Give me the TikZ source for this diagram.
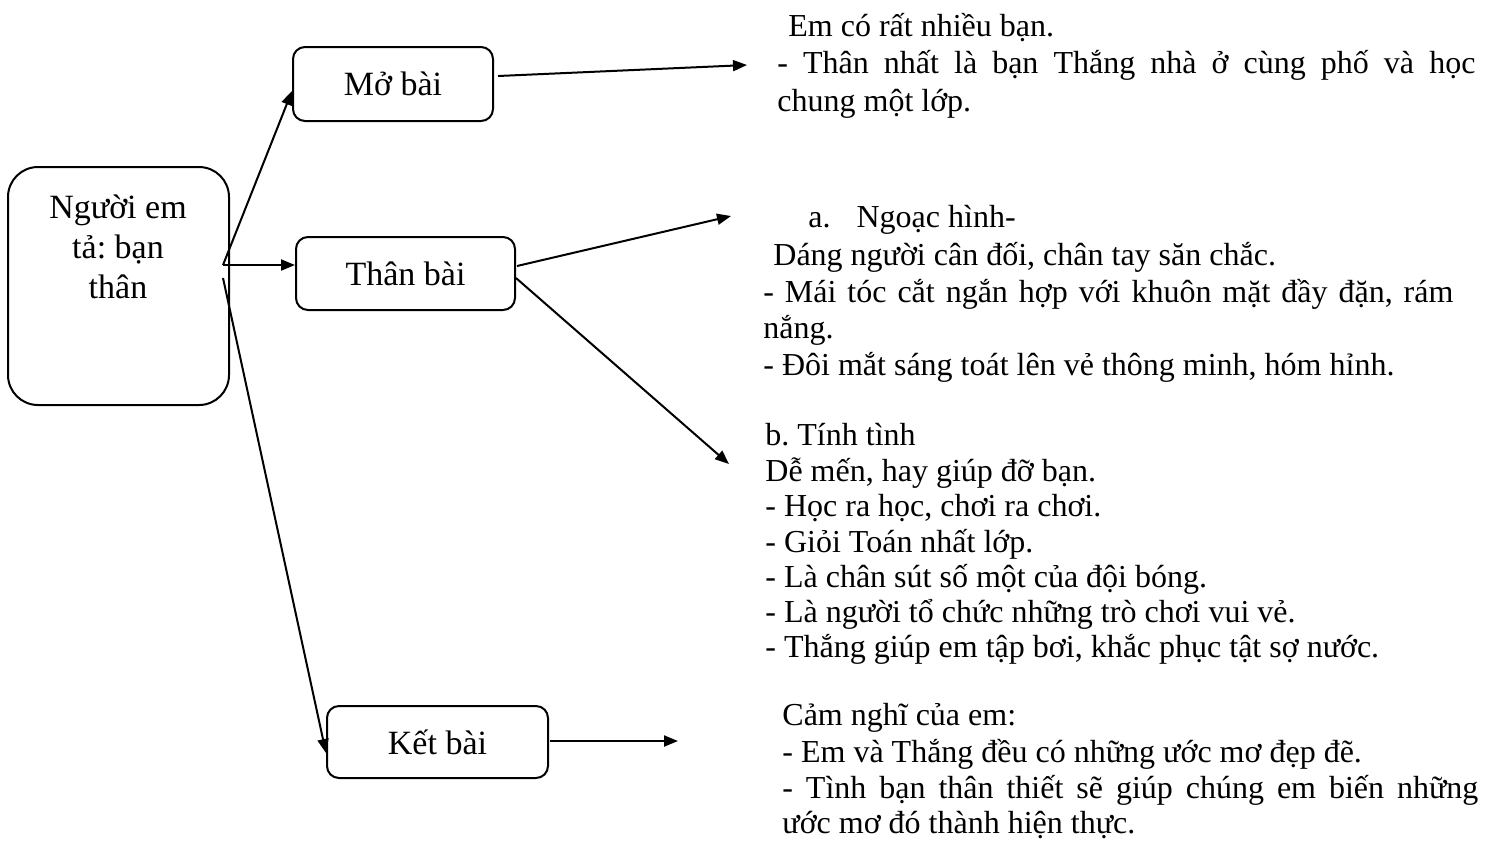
\documentclass[tikz,border=0pt]{standalone}
\usepackage{fontspec}
\setmainfont{Liberation Serif}
\usetikzlibrary{arrows.meta,calc}
\frenchspacing
\begin{document}
\begin{tikzpicture}[x=0.5pt,y=-0.5pt,
  box/.style={draw,line width=1pt,rounded corners=6pt,inner sep=0pt,font=\fontsize{17}{20}\selectfont},
  bigbox/.style={draw,line width=1pt,rounded corners=15pt,inner sep=0pt},
  lbl/.style={inner sep=0pt,font=\fontsize{17}{20}\selectfont},
  ln/.style={anchor=base west,inner sep=0pt,font=\fontsize{16}{18}\selectfont},
  arr/.style={line width=1pt,-{Triangle[length=7pt,width=5.5pt]}}]
\useasboundingbox (0,0) rectangle (1493,843);

% boxes
\node[bigbox,minimum width=110.5pt,minimum height=119pt] (main) at (118.5,286) {};
\node[lbl,anchor=base] (m1) at (118,218) {Người em};
\node[lbl,anchor=base] (m2) at (118,258) {tả: bạn};
\node[lbl,anchor=base] (m3) at (118,298) {thân};
\node[box,minimum width=100pt,minimum height=37pt] (mb) at (393,84) {Mở bài};
\node[box,minimum width=109.5pt,minimum height=36.5pt] (tb) at (405.5,273.5) {Thân bài};
\node[box,minimum width=110.5pt,minimum height=36pt] (kb) at (437.5,742) {Kết bài};

% connector points
\coordinate (hub) at (223,265);
\coordinate (hubk) at (223,278);
\coordinate (mbo) at (498,76);
\coordinate (mbt) at (747,65);
\coordinate (tbo1) at (517,266);
\coordinate (tbt1) at (731,216);
\coordinate (tbo2) at (516,278);
\coordinate (tbt2) at (729,464);
\coordinate (kbo) at (550,741);
\coordinate (kbt) at (678,741);

\draw[arr] (hub) -- ($(mb.south west)+(0,-31)$);
\draw[arr] (hub) -- (hub -| tb.west);
\draw[arr] (hubk) -- ($(kb.west)+(0,11)$);
\draw[arr] (mbo) -- (mbt);
\draw[arr] (tbo1) -- (tbt1);
\draw[arr] (tbo2) -- (tbt2);
\draw[arr] (kbo) -- (kbt);

% block 1
\node[ln] (t11) at (788,36) {Em có rất nhiều bạn.};
\node[ln] (t12) at (777,73) {\makebox[349pt][s]{- Thân nhất là bạn Thắng nhà ở cùng phố và học}};
\node[ln] (t13) at (777,111) {chung một lớp.};

% block a
\node[ln] (ta1) at (808,227) {a.\hspace{13pt}Ngoạc hình-};
\node[ln] (ta2) at (773,265) {Dáng người cân đối, chân tay săn chắc.};
\node[ln] (ta3) at (763,302) {\makebox[345pt][s]{- Mái tóc cắt ngắn hợp với khuôn mặt đầy đặn, rám}};
\node[ln] (ta4) at (763,338) {nắng.};
\node[ln] (ta5) at (763,375) {- Đôi mắt sáng toát lên vẻ thông minh, hóm hỉnh.};

% block b
\node[ln] (tb1) at (765,445) {b. Tính tình};
\node[ln] (tb2) at (765,481) {Dễ mến, hay giúp đỡ bạn.};
\node[ln] (tb3) at (765,516) {- Học ra học, chơi ra chơi.};
\node[ln] (tb4) at (765,552) {- Giỏi Toán nhất lớp.};
\node[ln] (tb5) at (765,587) {- Là chân sút số một của đội bóng.};
\node[ln] (tb6) at (765,622) {- Là người tổ chức những trò chơi vui vẻ.};
\node[ln] (tb7) at (765,657) {- Thắng giúp em tập bơi, khắc phục tật sợ nước.};

% block ket
\node[ln] (tk1) at (782,725) {Cảm nghĩ của em:};
\node[ln] (tk2) at (782,762) {- Em và Thắng đều có những ước mơ đẹp đẽ.};
\node[ln] (tk3) at (782,798) {\makebox[348pt][s]{- Tình bạn thân thiết sẽ giúp chúng em biến những}};
\node[ln] (tk4) at (782,833) {ước mơ đó thành hiện thực.};
\end{tikzpicture}
\end{document}
